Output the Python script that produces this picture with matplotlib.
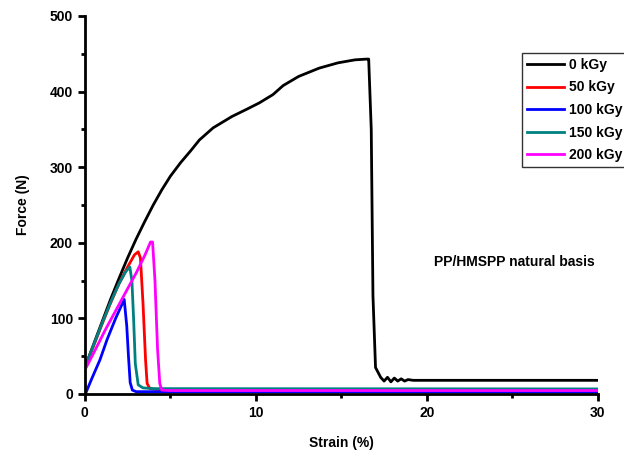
import numpy as np
import matplotlib.pyplot as plt

plt.rcParams['font.family'] = ['Liberation Sans', 'DejaVu Sans']
plt.rcParams['font.weight'] = 'bold'

# strain (%) / force (N)
strain_0 = [0.0, 0.5, 1.0, 1.5, 2.0, 2.5, 3.0, 3.5, 4.0, 4.5, 5.0, 5.6, 6.2, 6.7, 7.5, 8.6, 9.5,
            10.2, 11.0, 11.6, 12.5, 13.7, 14.8, 15.8, 16.5, 16.6, 16.75, 16.85, 17.0, 17.3,
            17.5, 17.7, 17.9, 18.1, 18.3, 18.5, 18.7, 18.9, 19.2, 20.0, 22.0, 25.0, 28.0, 30.0]
force_0 = [35, 65, 95, 125, 153, 180, 205, 228, 250, 270, 288, 306, 322, 336, 352, 367, 377,
           385, 396, 408, 420, 431, 438, 442, 443, 443, 350, 130, 35, 22,
           17, 22, 16, 21, 17, 20, 17, 19, 18, 18, 18, 18, 18, 18]

strain_50 = [0.0, 0.5, 1.0, 1.5, 2.0, 2.5, 2.9, 3.12, 3.25, 3.4, 3.55, 3.64, 3.8, 4.2, 30.0]
force_50 = [35, 63, 92, 120, 146, 168, 184, 188, 180, 120, 45, 14, 7, 6, 5]

strain_100 = [0.05, 0.4, 0.88, 1.3, 1.8, 2.3, 2.45, 2.55, 2.65, 2.78, 3.0, 30.0]
force_100 = [1, 20, 45, 72, 100, 125, 90, 50, 15, 5, 3, 2.5]

strain_150 = [0.0, 0.5, 1.0, 1.5, 2.0, 2.4, 2.63, 2.75, 2.85, 2.95, 3.12, 3.4, 4.0, 30.0]
force_150 = [35, 64, 93, 121, 146, 162, 168, 150, 100, 40, 12, 8, 7, 6.6]

strain_200 = [0.1, 0.6, 1.2, 1.8, 2.4, 3.0, 3.5, 3.84, 3.96, 4.1, 4.25, 4.38, 4.5, 5.0, 30.0]
force_200 = [36, 58, 85, 110, 135, 160, 183, 201, 201, 150, 60, 14, 5, 4.5, 4.5]

series = [
    ('0 kGy', strain_0, force_0, 'black'),
    ('50 kGy', strain_50, force_50, 'red'),
    ('100 kGy', strain_100, force_100, 'blue'),
    ('150 kGy', strain_150, force_150, '#008080'),
    ('200 kGy', strain_200, force_200, 'magenta'),
]

fig = plt.figure(figsize=(6.24, 4.57), dpi=100)
ax = fig.add_axes([0.136, 0.138, 0.822, 0.827])

for label, x, y, c in series:
    ax.plot(x, y, color=c, lw=2, label=label)

ax.set_xlim(0, 30)
ax.set_ylim(0, 500)
ax.set_xticks([0, 10, 20, 30])
ax.set_xticks([5, 15, 25], minor=True)
ax.set_yticks([0, 100, 200, 300, 400, 500])
ax.set_yticks([50, 150, 250, 350, 450], minor=True)
for s in ['top', 'right']:
    ax.spines[s].set_visible(False)
for s in ['left', 'bottom']:
    ax.spines[s].set_linewidth(2)
ax.tick_params(which='major', direction='out', length=5, width=2, labelsize=10)
ax.tick_params(which='minor', direction='out', length=3, width=2)
for t in ax.get_xticklabels() + ax.get_yticklabels():
    t.set_fontweight('bold')

ax.set_xlabel('Strain (%)', fontsize=10, fontweight='bold', labelpad=12)
ax.set_ylabel('Force (N)', fontsize=10, fontweight='bold', labelpad=14)

ax.text(25.1, 175, 'PP/HMSPP natural basis', fontsize=10, fontweight='bold', ha='center', va='center')

leg = fig.legend(loc='upper left', bbox_to_anchor=(522 / 624, 1 - 53 / 457), fontsize=10,
                 frameon=True, fancybox=False, edgecolor='black', handlelength=2.7,
                 handletextpad=0.3, borderpad=0.35, labelspacing=0.62, borderaxespad=0)
leg.get_frame().set_linewidth(1)
for t in leg.get_texts():
    t.set_fontweight('bold')

fig.savefig('out.png', dpi=100)
